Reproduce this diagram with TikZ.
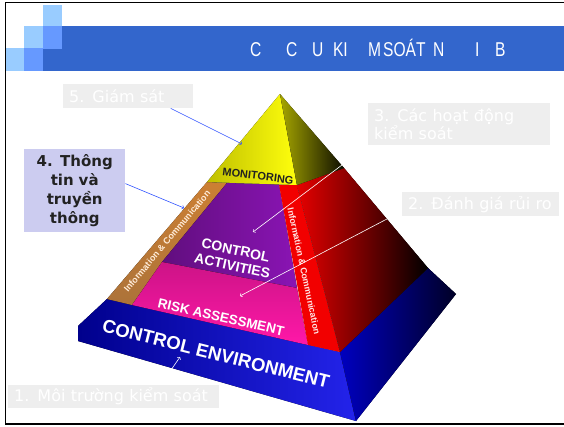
\documentclass[tikz,border=0pt]{standalone}
\usepackage{fontspec}
\newfontfamily\labelfont{DejaVu Sans}
\newfontfamily\titlefont[FakeStretch=0.78]{Liberation Sans}
\newfontfamily\pyrfont{Liberation Sans}

\definecolor{barblue}{HTML}{3366CC}
\definecolor{sqlight}{HTML}{99CCFF}
\definecolor{sqmid}{HTML}{6699FF}
\definecolor{boxgrey}{HTML}{EEEEEE}
\definecolor{boxlav}{HTML}{CCCCF0}
\definecolor{textdark}{HTML}{222222}
\definecolor{arrowblue}{HTML}{3355FF}
\definecolor{actpurple}{HTML}{8A14B4}
\definecolor{riskpink}{HTML}{FF18A8}

\tikzset{
  lblbox/.style={fill=boxgrey, text=white, anchor=north west, align=left,
    font=\labelfont\fontsize{16}{18.5}\selectfont, inner xsep=6pt, inner ysep=2pt},
  infobox/.style={fill=boxlav, text=textdark, anchor=north west, align=center,
    font=\labelfont\bfseries\fontsize{15}{19}\selectfont, inner xsep=5pt,
    text width=91pt, minimum height=83pt},
  pyrtext/.style={text=white, font=\pyrfont\bfseries, align=center, inner sep=0pt},
  striptext/.style={font=\pyrfont\bfseries\fontsize{9}{10}\selectfont, inner sep=0pt},
  bluearrow/.style={draw=arrowblue, line width=0.6pt, ->},
  whitearrow/.style={draw=white, line width=0.6pt, ->}
}

\begin{document}
\begin{tikzpicture}[x=1pt, y=-1pt]
    \useasboundingbox (0,0) rectangle (564,426);
    \fill[white] (0,0) rectangle (564,426);

    % header bar and squares
    \fill[barblue] (43,26) rectangle (570,71);
    \foreach \x/\y/\c in {43/5/sqlight, 24/26/sqlight, 43/26/sqmid,
                          5/48/sqlight, 24/48/sqmid}
        \fill[\c] (\x,\y) rectangle ++(19,22.5);
    \node[text=white, anchor=base west, inner sep=0pt,
    font=\titlefont\fontsize{20}{20}\selectfont] (title) at (250,56)
    {C\hspace{24.7pt}C\hspace{14.7pt}U\hspace{9.7pt}KI\hspace{20.3pt}M\hspace{2pt}SOÁT\hspace{7.6pt}N\hspace{30.7pt}I\hspace{15.7pt}B};

    % slide frame
    \draw[line width=1.6pt] (5.5,2.5) rectangle (570,424);

    % pyramid corners
    \coordinate (apex) at (280,94);
    \coordinate (capL) at (207,182);
    \coordinate (capF) at (297,185);
    \coordinate (capR) at (344,168);
    \coordinate (stripI) at (227,183);
    \coordinate (redT) at (279,184.5);
    \coordinate (midL) at (107,299);
    \coordinate (midLi) at (132,305);
    \coordinate (redB) at (308,345);
    \coordinate (midF) at (340,352);
    \coordinate (midR) at (428,268);
    \coordinate (baseL1) at (78,326);
    \coordinate (baseL2) at (78,341);
    \coordinate (baseF) at (356,421);
    \coordinate (baseR) at (456,294);
    \coordinate (raL) at (162,262);
    \coordinate (raR) at (297,288);

    % control environment
    \fill[left color=blue!55!black, right color=blue!85!white!92!black]
        (midL) -- (midF) -- (baseF) -- (baseL2) -- (baseL1) -- cycle;
    \fill[left color=blue!75!black, right color=blue!15!black]
        (midF) -- (midR) -- (baseR) -- (baseF) -- cycle;

    % information & communication, left
    \fill[top color=brown!80!orange, bottom color=brown!90!black]
        (capL) -- (stripI) -- (midLi) -- (midL) -- cycle;
    % control activities
    \fill[left color=actpurple!70!black, right color=actpurple]
        (stripI) -- (redT) -- (raR) -- (raL) -- cycle;
    % risk assessment
    \fill[top color=riskpink!80!black, bottom color=riskpink]
        (raL) -- (raR) -- (redB) -- (midLi) -- cycle;
    % information & communication, right
    \fill[red!95!black] (redT) -- (capF) -- (midF) -- (redB) -- cycle;
    \fill[left color=red!90!black, right color=black]
        (capF) -- (capR) -- (midR) -- (midF) -- cycle;

    % monitoring
    \fill[left color=yellow!75!black, right color=yellow!95!white]
        (apex) -- (capL) -- (capF) -- cycle;
    \fill[left color=yellow!65!black, right color=yellow!5!black]
        (apex) -- (capF) -- (capR) -- cycle;

    % pyramid texts
    \node[pyrtext, text=textdark, rotate=-7,
    font=\pyrfont\bfseries\fontsize{11}{11}\selectfont] (mon) at (258,176) {MONITORING};
    \node[pyrtext, rotate=-12,
    font=\pyrfont\bfseries\fontsize{14}{16}\selectfont] (act) at (234,258) {CONTROL\\ACTIVITIES};
    \node[pyrtext, rotate=-13,
    font=\pyrfont\bfseries\fontsize{13.5}{14}\selectfont] (risk) at (221,317) {RISK ASSESSMENT};
    \node[pyrtext, rotate=-14,
    font=\pyrfont\bfseries\fontsize{18.5}{19}\selectfont] (env) at (216,354) {CONTROL ENVIRONMENT};
    \node[striptext, text=orange!15!white, rotate=50] (infoL) at (167,241) {Information \& Communication};
    \node[striptext, text=red!10!white, rotate=-78] (infoR) at (304,271) {Information \& Communication};

    % labels
    \node[lblbox, text width=118pt, minimum height=24pt] (lbl5) at (63,84) {5. Giám sát};
    \node[lblbox, text width=170pt, minimum height=42pt] (lbl3) at (368,103) {3. Các hoạt động\\kiểm soát};
    \node[lblbox, text width=145pt, minimum height=24pt] (lbl2) at (402,192) {2. Đánh giá rủi ro};
    \node[lblbox, text width=199pt, minimum height=23pt] (lbl1) at (8,385) {1. Môi trường kiểm soát};
    \node[infobox] (lbl4) at (24,149) {4. Thông\\tin và\\truyền\\thông};

    % arrows
    \coordinate (t5) at (242,144);
    \coordinate (t4) at (184,208);
    \coordinate (t3) at (253,232);
    \coordinate (t2) at (240,296);
    \coordinate (t1) at (180,357);
    \draw[bluearrow] (lbl5.-16) -- (t5);
    \draw[bluearrow] (lbl4.8) -- (t4);
    \draw[whitearrow] (lbl3.south west) -- (t3);
    \draw[whitearrow] (lbl2.185) -- (t2);
    \draw[whitearrow] (lbl1.14) -- (t1);
\end{tikzpicture}
\end{document}
